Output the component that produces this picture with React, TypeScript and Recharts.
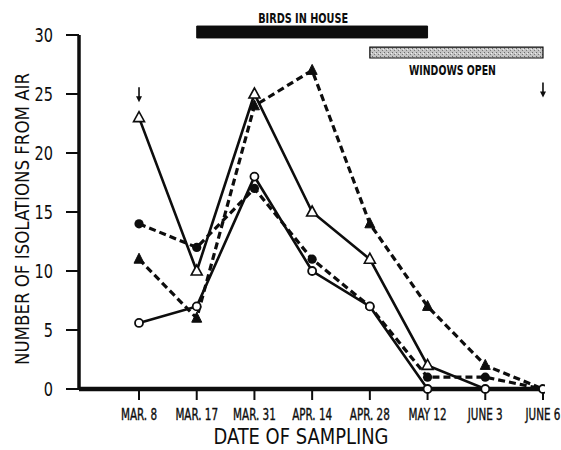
import React from 'react';
import {
  LineChart, Line, XAxis, YAxis, ReferenceArea, ReferenceDot, Label,
} from 'recharts';

// ---- data ----
const dates = ['MAR. 8', 'MAR. 17', 'MAR. 31', 'APR. 14', 'APR. 28', 'MAY 12', 'JUNE 3', 'JUNE 6'];
const openTriangle = [23, 10, 25, 15, 11, 2, 0, 0];
const filledTriangle = [11, 6, 24, 27, 14, 7, 2, 0];
const filledCircle = [14, 12, 17, 11, 7, 1, 1, 0];
const openCircle = [5.6, 7, 18, 10, 7, 0, 0, 0];
const yTicks = [0, 5, 10, 15, 20, 25, 30];
// periods given as date indices
const birdsInHouse = [1, 5];
const windowsOpen = [4, 7];
const arrowDates = [0, 7];

const rows = dates.map((d, i) => ({
  idx: i,
  openTriangle: openTriangle[i],
  filledTriangle: filledTriangle[i],
  filledCircle: filledCircle[i],
  openCircle: openCircle[i],
}));

const FONT = "'DejaVu Sans Condensed', 'Liberation Sans Narrow', 'DejaVu Sans', sans-serif";
const INK = '#0d0d0d';

const hideZero = (p: any) => p.value === 0 || p.payload == null;

const OpenTri = (p: any) => {
  const { cx, cy, index } = p;
  if (hideZero(p)) return <g key={`ot${index}`} />;
  return (
    <polygon key={`ot${index}`} points={`${cx},${cy - 6} ${cx - 5.5},${cy + 4} ${cx + 5.5},${cy + 4}`}
      fill="#fff" stroke={INK} strokeWidth={1.6} />
  );
};
const FilledTri = (p: any) => {
  const { cx, cy, index } = p;
  if (hideZero(p)) return <g key={`ft${index}`} />;
  return (
    <polygon key={`ft${index}`} points={`${cx},${cy - 6} ${cx - 5},${cy + 4} ${cx + 5},${cy + 4}`}
      fill={INK} stroke={INK} strokeWidth={1} />
  );
};
const FilledCirc = (p: any) => {
  const { cx, cy, index } = p;
  if (hideZero(p)) return <g key={`fc${index}`} />;
  return <circle key={`fc${index}`} cx={cx} cy={cy} r={4.6} fill={INK} />;
};
const OpenCirc = (p: any) => {
  const { cx, cy, index } = p;
  return <circle key={`oc${index}`} cx={cx} cy={cy} r={4} fill="#fff" stroke={INK} strokeWidth={1.8} />;
};

const Arrow = (p: any) => {
  const { cx, cy } = p;
  return (
    <g>
      <line x1={cx} y1={cy - 15} x2={cx} y2={cy - 5} stroke={INK} strokeWidth={1.6} />
      <polygon points={`${cx - 3},${cy - 6} ${cx + 3},${cy - 6} ${cx},${cy}`} fill={INK} />
    </g>
  );
};

const narrow = (x: number, s: number) => `translate(${x} 0) scale(${s} 1) translate(${-x} 0)`;

const XTick = (p: any) => {
  const { x, y, payload } = p;
  return (
    <text x={x} y={y} dy="0.71em" textAnchor="middle" fontSize={15} fill={INK} fontFamily={FONT}
      stroke={INK} strokeWidth={0.35} transform={narrow(x, 0.77)}>
      {dates[payload.value]}
    </text>
  );
};

const YTick = (p: any) => {
  const { x, y, payload } = p;
  return (
    <text x={x} y={y} dy="0.36em" textAnchor="end" fontSize={19} fill={INK} fontFamily={FONT}
      transform={narrow(x, 0.85)}>
      {payload.value}
    </text>
  );
};

const barLabel = (text: string, where: 'top' | 'bottom', dx: number, gap: number, len: number) => (p: any) => {
  const vb = p.viewBox || {};
  const cx = vb.x + vb.width / 2 + dx;
  const y = where === 'top' ? vb.y - gap : vb.y + vb.height + gap + 10;
  return (
    <text x={cx} y={y} textAnchor="middle" fontSize={14} fontWeight={600} fill={INK} fontFamily={FONT}
      textLength={len} lengthAdjust="spacingAndGlyphs">
      {text}
    </text>
  );
};

export default function App() {
  return (
    <div style={{ position: 'absolute', left: 0, top: 0, width: 561, height: 450, background: '#fff' }}>
      <svg width={0} height={0} style={{ position: 'absolute' }}>
        <defs>
          <pattern id="stipple" width="4" height="4" patternUnits="userSpaceOnUse">
            <rect width="4" height="4" fill="#c4c4c4" />
            <rect x="0" y="0" width="1" height="1" fill="#6a6a6a" />
            <rect x="2" y="2" width="1" height="1" fill="#7a7a7a" />
            <rect x="3" y="1" width="1" height="1" fill="#eeeeee" />
          </pattern>
        </defs>
      </svg>
      <LineChart width={561} height={450} data={rows}
        margin={{ top: 35, right: 16, bottom: 21, left: 0 }}>
        <XAxis type="number" dataKey="idx" domain={[-1.04, 7.035]} allowDataOverflow
          ticks={dates.map((_, i) => i)} interval={0}
          height={40} tickSize={11} tickMargin={9}
          axisLine={{ stroke: INK, strokeWidth: 4.5 }}
          tickLine={{ stroke: INK, strokeWidth: 2 }}
          tick={XTick}>
          <Label content={() => (
            <text x={301} y={444} textAnchor="middle" fontSize={21} fill={INK} fontFamily={FONT}
              textLength={175} lengthAdjust="spacingAndGlyphs">
              DATE OF SAMPLING
            </text>
          )} />
        </XAxis>
        <YAxis type="number" domain={[0, 30]} ticks={yTicks} width={79}
          tickSize={13} tickMargin={13}
          axisLine={{ stroke: INK, strokeWidth: 3.5 }}
          tickLine={{ stroke: INK, strokeWidth: 2 }}
          tick={YTick}>
          <Label content={() => (
            <text x={29} y={219} transform="rotate(-90 29 219)" textAnchor="middle"
              fontSize={20} fill={INK} fontFamily={FONT} textLength={292} lengthAdjust="spacingAndGlyphs">
              NUMBER OF ISOLATIONS FROM AIR
            </text>
          )} />
        </YAxis>

        <ReferenceArea x1={birdsInHouse[0]} x2={birdsInHouse[1]} y1={29.75} y2={30.76}
          ifOverflow="visible" fill={INK} fillOpacity={1} stroke={INK}
          label={barLabel('BIRDS IN HOUSE', 'top', -9, 3, 90)} />
        <ReferenceArea x1={windowsOpen[0]} x2={windowsOpen[1]} y1={28.05} y2={28.98}
          ifOverflow="visible" fill="url(#stipple)" fillOpacity={1} stroke={INK} strokeWidth={1.2}
          label={barLabel('WINDOWS OPEN', 'bottom', -4, 7, 87)} />

        <ReferenceDot x={arrowDates[0]} y={24.3} ifOverflow="visible" shape={Arrow} />
        <ReferenceDot x={arrowDates[1]} y={24.7} ifOverflow="visible" shape={Arrow} />

        <Line type="linear" dataKey="filledTriangle" stroke={INK} strokeWidth={3.2}
          strokeDasharray="7 4" dot={FilledTri} isAnimationActive={false} />
        <Line type="linear" dataKey="filledCircle" stroke={INK} strokeWidth={3.2}
          strokeDasharray="7 4" dot={FilledCirc} isAnimationActive={false} />
        <Line type="linear" dataKey="openTriangle" stroke={INK} strokeWidth={2.6}
          dot={OpenTri} isAnimationActive={false} />
        <Line type="linear" dataKey="openCircle" stroke={INK} strokeWidth={2.6}
          dot={OpenCirc} isAnimationActive={false} />
      </LineChart>
    </div>
  );
}
